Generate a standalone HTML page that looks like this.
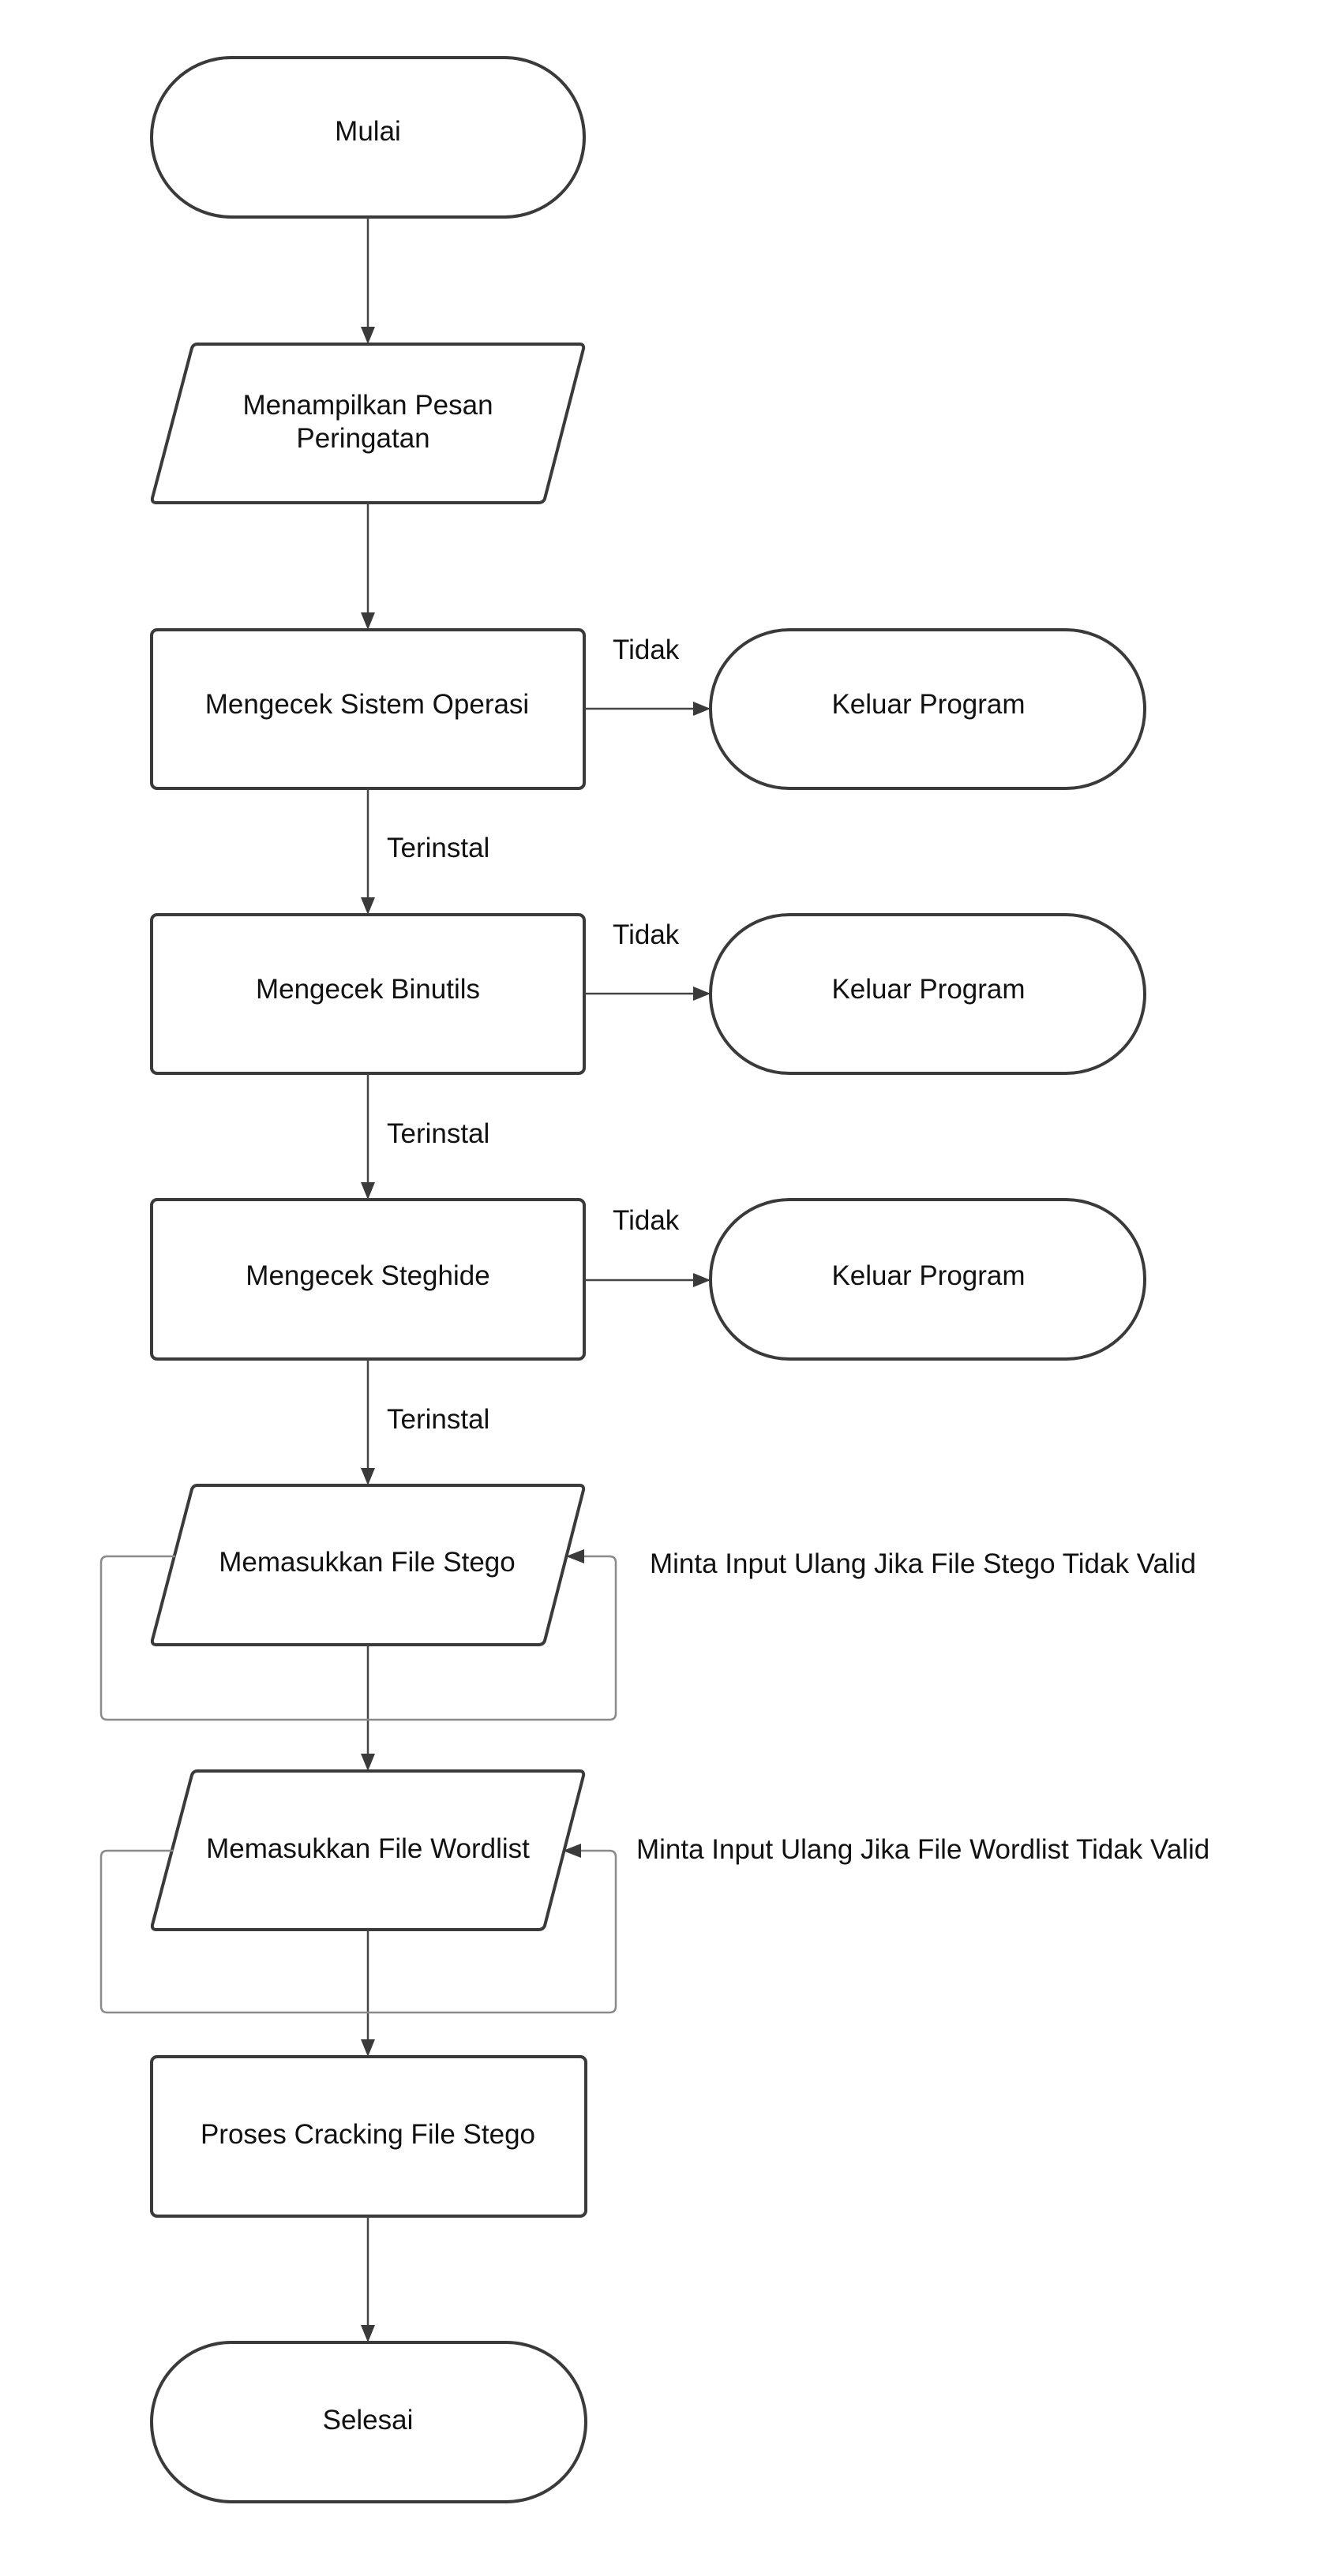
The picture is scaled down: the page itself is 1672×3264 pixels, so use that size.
<!DOCTYPE html>
<html><head><meta charset="utf-8"><style>
html,body{margin:0;padding:0;background:#fff;}
svg{display:block;}
text{font-family:"Liberation Sans",sans-serif;fill:#111;}
</style></head><body>
<svg width="1672" height="3264" viewBox="0 0 1672 3264" xmlns="http://www.w3.org/2000/svg">
<g fill="#fff" stroke="#3a3a3a" stroke-width="4">
<rect x="192" y="73" width="548" height="202" rx="101" ry="101"/>
<path d="M250,436 L734,436 Q740,436 739,442 L690,632 Q688,637 682,637 L198,637 Q192,637 193,631 L243,441 Q245,436 250,436 Z"/>
<rect x="192" y="798" width="548" height="201" rx="7"/>
<rect x="900" y="798" width="550" height="201" rx="100"/>
<rect x="192" y="1159" width="548" height="201" rx="7"/>
<rect x="900" y="1159" width="550" height="201" rx="100"/>
<rect x="192" y="1520" width="548" height="202" rx="7"/>
<rect x="900" y="1520" width="550" height="202" rx="100"/>
<path d="M250,1882 L734,1882 Q740,1882 739,1888 L690,2079 Q688,2084 682,2084 L198,2084 Q192,2084 193,2078 L243,1887 Q245,1882 250,1882 Z"/>
<path d="M250,2244 L734,2244 Q740,2244 739,2250 L690,2440 Q688,2445 682,2445 L198,2445 Q192,2445 193,2439 L243,2249 Q245,2244 250,2244 Z"/>
<rect x="192" y="2606" width="550" height="202" rx="7"/>
<rect x="192" y="2968" width="550" height="202" rx="101"/>
</g>
<g stroke="#444" stroke-width="2.5" fill="none">
<line x1="466" y1="275" x2="466" y2="416"/>
<line x1="466" y1="637" x2="466" y2="778"/>
<line x1="466" y1="999" x2="466" y2="1139"/>
<line x1="466" y1="1360" x2="466" y2="1500"/>
<line x1="466" y1="1722" x2="466" y2="1862"/>
<line x1="466" y1="2084" x2="466" y2="2224"/>
<line x1="466" y1="2445" x2="466" y2="2586"/>
<line x1="466" y1="2808" x2="466" y2="2948"/>
<line x1="740" y1="898" x2="880" y2="898"/>
<line x1="740" y1="1259" x2="880" y2="1259"/>
<line x1="740" y1="1622" x2="880" y2="1622"/>
</g>
<g stroke="#8a8a8a" stroke-width="2.5" fill="none">
<path d="M222,1972 L136,1972 Q128,1972 128,1980 L128,2171 Q128,2179 136,2179 L772,2179 Q780,2179 780,2171 L780,1980 Q780,1972 772,1972 L738,1972"/>
<path d="M220,2345 L136,2345 Q128,2345 128,2353 L128,2542 Q128,2550 136,2550 L772,2550 Q780,2550 780,2542 L780,2353 Q780,2345 772,2345 L734,2345"/>
</g>
<g fill="#3a3a3a">
<polygon points="466,436 457,414 475,414"/>
<polygon points="466,798 457,776 475,776"/>
<polygon points="466,1159 457,1137 475,1137"/>
<polygon points="466,1520 457,1498 475,1498"/>
<polygon points="466,1882 457,1860 475,1860"/>
<polygon points="466,2244 457,2222 475,2222"/>
<polygon points="466,2606 457,2584 475,2584"/>
<polygon points="466,2968 457,2946 475,2946"/>
<polygon points="900,898 878,889 878,907"/>
<polygon points="900,1259 878,1250 878,1268"/>
<polygon points="900,1622 878,1613 878,1631"/>
<polygon points="717,1972 740,1963 740,1981"/>
<polygon points="713,2345 736,2336 736,2354"/>
</g>
<g font-size="35" text-anchor="middle">
<text x="466" y="178">Mulai</text>
<text x="466" y="525">Menampilkan Pesan</text>
<text x="460" y="567">Peringatan</text>
<text x="465" y="904">Mengecek Sistem Operasi</text>
<text x="1176" y="904">Keluar Program</text>
<text x="466" y="1265">Mengecek Binutils</text>
<text x="1176" y="1265">Keluar Program</text>
<text x="466" y="1628">Mengecek Steghide</text>
<text x="1176" y="1628">Keluar Program</text>
<text x="465" y="1991">Memasukkan File Stego</text>
<text x="466" y="2354">Memasukkan File Wordlist</text>
<text x="466" y="2716">Proses Cracking File Stego</text>
<text x="466" y="3078">Selesai</text>
</g>
<g font-size="35">
<text x="776" y="835">Tidak</text>
<text x="776" y="1196">Tidak</text>
<text x="776" y="1558">Tidak</text>
<text x="490" y="1086">Terinstal</text>
<text x="490" y="1448">Terinstal</text>
<text x="490" y="1810">Terinstal</text>
<text x="823" y="1993">Minta Input Ulang Jika File Stego Tidak Valid</text>
<text x="806" y="2355">Minta Input Ulang Jika File Wordlist Tidak Valid</text>
</g>
</svg>
</body></html>
